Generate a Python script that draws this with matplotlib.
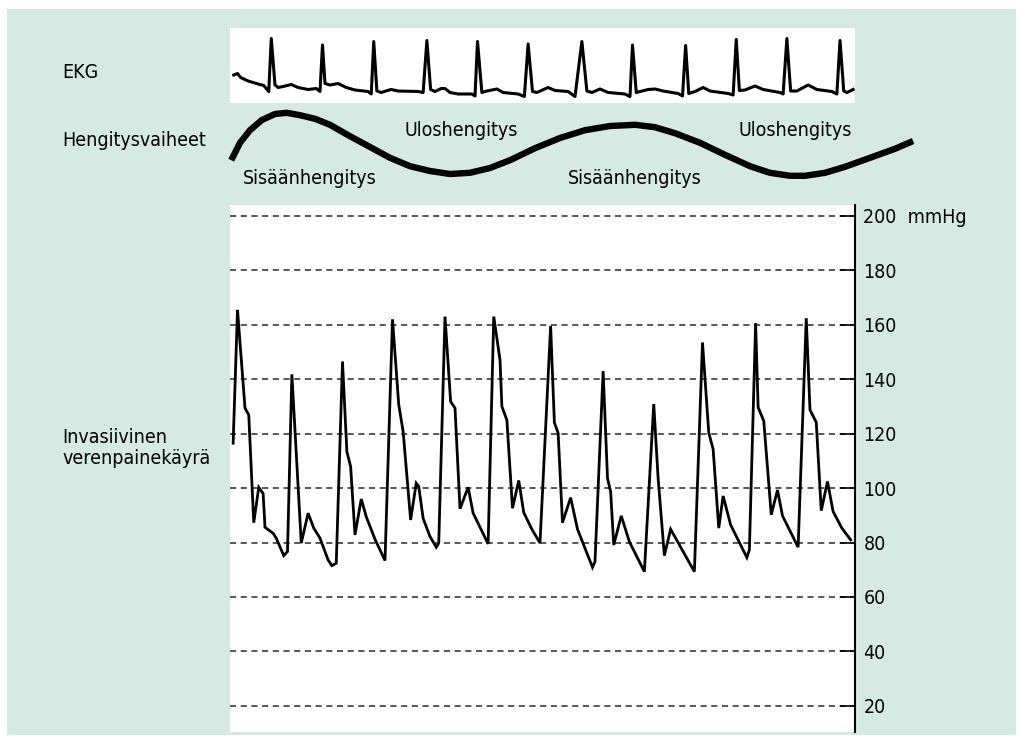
import matplotlib
matplotlib.use('Agg')
import matplotlib.pyplot as plt
from matplotlib.patches import Rectangle

plt.rcParams['font.family'] = ['DejaVu Sans']
plt.rcParams['font.stretch'] = 'condensed'
plt.rcParams['font.size'] = 14

# EKG trace (time in s, amplitude in mV)
ekg_t = [0.06, 0.12, 0.17, 0.29, 0.45, 0.54, 0.62, 0.66, 0.72, 0.77, 0.85, 0.98, 1.09, 1.25, 1.38,
         1.44, 1.48, 1.52, 1.60, 1.73, 1.86, 2.00, 2.21, 2.26, 2.30, 2.35, 2.42, 2.52, 2.58, 2.69,
         3.01, 3.09, 3.15, 3.21, 3.28, 3.38, 3.44, 3.52, 3.65, 3.87, 3.92, 3.96, 4.03, 4.11, 4.27,
         4.37, 4.61, 4.71, 4.77, 4.84, 4.91, 5.09, 5.20, 5.41, 5.52, 5.63, 5.71, 5.79, 5.92, 6.05,
         6.32, 6.40, 6.44, 6.50, 6.69, 6.80, 6.93, 7.17, 7.24, 7.29, 7.34, 7.44, 7.57, 7.68, 7.97,
         8.05, 8.10, 8.15, 8.24, 8.40, 8.53, 8.80, 8.85, 8.91, 8.97, 9.07, 9.25, 9.39, 9.63, 9.71,
         9.76, 9.82, 9.87, 9.97]
ekg_mv = [0.34, 0.37, 0.29, 0.22, 0.16, 0.13, 0.01, 1.07, 0.14, 0.09, 0.11, 0.15, 0.09, 0.05, 0.07,
          0.01, 0.94, 0.17, 0.14, 0.17, 0.09, 0.04, 0.01, -0.04, 1.01, 0.02, -0.01, 0.03, 0.05, 0.02,
          0.01, -0.01, 1.03, 0.05, 0.01, 0.07, 0.07, -0.01, -0.04, -0.04, -0.08, 1.01, -0.01, 0.02, 0.06,
          -0.01, -0.04, -0.09, 0.96, 0.01, -0.01, 0.09, 0.03, 0.01, -0.09, 1.01, 0.02, -0.01, 0.06, -0.01,
          -0.04, -0.09, 0.94, -0.01, 0.05, 0.06, 0.02, -0.03, -0.08, 0.93, -0.03, 0.01, 0.09, 0.02, -0.03,
          -0.06, 1.05, 0.03, 0.04, 0.12, 0.05, -0.01, -0.04, 1.07, 0.02, 0.02, 0.14, 0.05, 0.01, -0.04,
          1.03, 0.02, -0.01, 0.05]

# breathing phase curve (relative lung volume)
breath_t = [0.02, 0.16, 0.32, 0.51, 0.72, 0.91, 1.12, 1.36, 1.60, 1.92, 2.24, 2.56, 2.88, 3.20,
            3.52, 3.84, 4.16, 4.48, 4.88, 5.28, 5.68, 6.08, 6.48, 6.80, 7.12, 7.52, 7.92, 8.32,
            8.64, 8.96, 9.20, 9.52, 9.84, 10.24, 10.64, 10.93]
breath_v = [0.33, 0.62, 0.83, 1.00, 1.10, 1.12, 1.08, 1.02, 0.92, 0.73, 0.55, 0.37, 0.23, 0.15,
            0.10, 0.12, 0.20, 0.33, 0.53, 0.70, 0.83, 0.90, 0.92, 0.88, 0.78, 0.62, 0.42, 0.23,
            0.12, 0.07, 0.07, 0.12, 0.22, 0.37, 0.52, 0.65]
phase_labels = ['Sisäänhengitys', 'Uloshengitys', 'Sisäänhengitys', 'Uloshengitys']
phase_t = [0.21, 2.80, 5.41, 8.13]
phase_v = [0.03, 0.83, 0.03, 0.83]

# invasive arterial pressure (mmHg)
bp_t = [0.05, 0.12, 0.24, 0.30, 0.38, 0.46, 0.53, 0.56, 0.69, 0.74, 0.86, 0.92, 0.99, 1.14, 1.25,
        1.34, 1.44, 1.57, 1.63, 1.70, 1.80, 1.87, 1.93, 2.00, 2.10, 2.18, 2.32, 2.48, 2.60, 2.70,
        2.77, 2.89, 2.98, 3.02, 3.09, 3.20, 3.30, 3.34, 3.44, 3.53, 3.60, 3.68, 3.81, 3.89, 4.13,
        4.22, 4.32, 4.35, 4.43, 4.52, 4.62, 4.70, 4.83, 4.96, 5.13, 5.19, 5.25, 5.32, 5.45, 5.56,
        5.80, 5.84, 5.97, 6.04, 6.09, 6.14, 6.26, 6.39, 6.63, 6.78, 6.85, 6.95, 7.05, 7.43, 7.56,
        7.66, 7.73, 7.82, 7.89, 8.01, 8.27, 8.31, 8.41, 8.45, 8.54, 8.66, 8.76, 8.84, 9.09, 9.22,
        9.28, 9.38, 9.46, 9.56, 9.65, 9.79, 9.93]
bp_mmhg = [116.5, 165.5, 129.4, 126.9, 87.3, 100.3, 98.0, 85.6, 83.4, 81.6, 75.2, 76.7, 141.8, 79.8, 90.8,
           85.3, 81.6, 73.6, 71.5, 72.4, 146.5, 113.4, 107.9, 82.8, 96.0, 89.5, 81.2, 73.4, 162.0, 130.6,
           120.8, 88.3, 101.8, 100.6, 88.9, 82.2, 78.3, 79.8, 163.0, 131.8, 129.4, 92.4, 100.3, 90.8, 79.5,
           163.0, 147.1, 130.0, 125.0, 92.6, 102.8, 91.0, 84.9, 79.8, 159.6, 124.1, 120.2, 87.3, 96.5, 84.9,
           70.9, 73.0, 143.0, 103.6, 98.7, 79.1, 89.8, 80.3, 69.3, 130.9, 103.6, 75.2, 84.9, 69.3, 153.5,
           120.4, 114.3, 85.3, 97.1, 86.5, 74.5, 77.3, 160.6, 129.7, 124.7, 90.2, 99.3, 89.8, 78.3, 162.4,
           128.7, 124.2, 91.7, 102.4, 91.4, 85.3, 81.0]
bp_ticks = [20, 40, 60, 80, 100, 120, 140, 160, 180, 200]
bp_ticklabels = ['20', '40', '60', '80', '100', '120', '140', '160', '180', '200  mmHg']

W, H = 1023, 743
fig = plt.figure(figsize=(W / 100, H / 100), dpi=100)
fig.patch.set_facecolor('white')
fig.patches.append(Rectangle((7 / W, 1 - 735 / H), 1009 / W, 726 / H,
                             transform=fig.transFigure, facecolor='#d5eae3',
                             edgecolor='none', zorder=-10))

def px_axes(x0, y0, x1, y1):
    return fig.add_axes([x0 / W, 1 - y1 / H, (x1 - x0) / W, (y1 - y0) / H])

# EKG strip
ax_ekg = px_axes(230, 28, 855, 103)
ax_ekg.plot(ekg_t, ekg_mv, color='black', lw=2.2, solid_joinstyle='round')
ax_ekg.set_xlim(0, 10)
ax_ekg.set_ylim(-0.22, 1.28)
ax_ekg.set_facecolor('white')
ax_ekg.set_xticks([])
ax_ekg.set_yticks([])
for s in ax_ekg.spines.values():
    s.set_visible(False)

# breathing phases
ax_br = px_axes(230, 105, 855, 195)
ax_br.plot(breath_t, breath_v, color='black', lw=4.6, clip_on=False, solid_capstyle='butt')
for lab, t, v in zip(phase_labels, phase_t, phase_v):
    ax_br.text(t, v, lab, ha='left', va='center')
ax_br.set_xlim(0, 10)
ax_br.set_ylim(-0.25, 1.25)
ax_br.axis('off')

# pressure curve
ax = px_axes(230, 205, 855, 732)
ax.set_facecolor('white')
ax.plot(bp_t, bp_mmhg, color='black', lw=2.0, solid_joinstyle='miter', zorder=3)
ax.set_xlim(0, 10)
ax.set_ylim(10.4, 204.0)
ax.set_yticks(bp_ticks)
ax.set_yticklabels(bp_ticklabels)
ax.set_xticks([])
ax.yaxis.tick_right()
ax.tick_params(axis='y', direction='in', length=11, width=1.2, pad=6, labelsize=14)
ax.grid(axis='y', color='#2a2a2a', linestyle=(0, (4, 3)), lw=1.1)
for side in ['left', 'top', 'bottom']:
    ax.spines[side].set_visible(False)
ax.spines['right'].set_linewidth(1.5)

# row labels
fig.text(62 / W, 1 - 72 / H, 'EKG', ha='left', va='center')
fig.text(62 / W, 1 - 140 / H, 'Hengitysvaiheet', ha='left', va='center')
fig.text(62 / W, 1 - 448 / H, 'Invasiivinen\nverenpainekäyrä', ha='left', va='center',
         linespacing=1.15)

fig.savefig('out.png', dpi=100)
